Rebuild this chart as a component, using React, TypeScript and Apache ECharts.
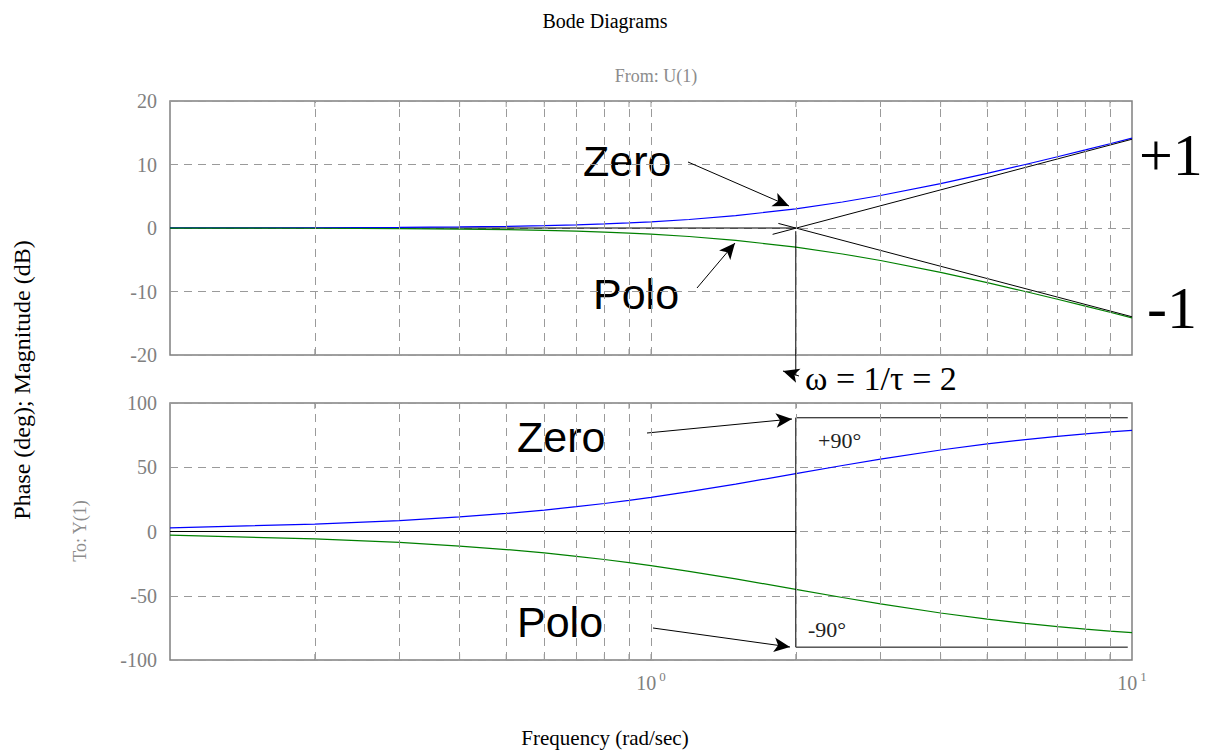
import React, { useEffect, useRef } from "react";
import * as echarts from "echarts";

// Frequency samples (rad/sec) shared by every response curve
const FREQ = [0.1, 0.2, 0.3, 0.4, 0.5, 0.6, 0.7, 0.8, 0.9, 1, 1.2, 1.5, 2, 2.5, 3, 4, 5, 6, 7, 8, 9, 10];

// Magnitude (dB)
const ZERO_MAG = [0.01, 0.04, 0.1, 0.17, 0.26, 0.37, 0.5, 0.65, 0.8, 0.97, 1.34, 1.94, 3.01, 4.09, 5.12, 6.99, 8.6, 10.0, 11.22, 12.3, 13.27, 14.15];
const POLE_MAG = [-0.01, -0.04, -0.1, -0.17, -0.26, -0.37, -0.5, -0.65, -0.8, -0.97, -1.34, -1.94, -3.01, -4.09, -5.12, -6.99, -8.6, -10.0, -11.22, -12.3, -13.27, -14.15];

// Phase (deg)
const ZERO_PHASE = [2.86, 5.71, 8.53, 11.31, 14.04, 16.7, 19.29, 21.8, 24.23, 26.57, 30.96, 36.87, 45, 51.34, 56.31, 63.43, 68.2, 71.57, 74.05, 75.96, 77.47, 78.69];
const POLE_PHASE = [-2.86, -5.71, -8.53, -11.31, -14.04, -16.7, -19.29, -21.8, -24.23, -26.57, -30.96, -36.87, -45, -51.34, -56.31, -63.43, -68.2, -71.57, -74.05, -75.96, -77.47, -78.69];

// Straight-line asymptotes of the magnitude plot
const MAG_FLAT = [[0.1, 0], [2, 0]];
const MAG_RISE = [[1.79, -1.0], [10, 13.98]];
const MAG_FALL = [[1.84, 0.72], [10, -13.98]];
const MAG_CORNER = [[2, -0.5], [2, -23.2]];

// Asymptotes of the phase plot
const PH_FLAT = [[0.1, 0], [2, 0]];
const PH_CORNER = [[2, 88.5], [2, -90]];
const PH_UP = [[2, 88.5], [9.8, 88.5]];
const PH_DOWN = [[2, -90], [9.8, -90]];

// Log grid positions inside each decade
const GRID_FREQ = [0.2, 0.3, 0.4, 0.5, 0.6, 0.7, 0.8, 0.9, 1, 2, 3, 4, 5, 6, 7, 8, 9];

const MAG_RANGE = [-20, 20];
const PH_RANGE = [-100, 100];

const SERIF = "'Liberation Serif', 'Times New Roman', serif";
const SANS = "'Liberation Sans', Arial, sans-serif";
const GRID_GREY = "#9a9a9a";
const FRAME_GREY = "#808080";

const zip = (xs: number[], ys: number[]) => xs.map((x, i) => [x, ys[i]]);

export default function App() {
  const ref = useRef<HTMLDivElement>(null);

  useEffect(() => {
    if (!ref.current) return;
    const chart = echarts.init(ref.current, null, { renderer: "svg" });

    const gridLines = {
      silent: true,
      symbol: "none",
      label: { show: false },
      lineStyle: { type: [8, 6], color: GRID_GREY, width: 1 },
      data: GRID_FREQ.map((v) => ({ xAxis: v })),
    };

    const ticks = (xi: number, range: number[]) => [
      {
        type: "scatter",
        xAxisIndex: xi,
        yAxisIndex: xi,
        silent: true,
        symbol: "rect",
        symbolSize: [1, 6],
        symbolOffset: [0, -3],
        itemStyle: { color: FRAME_GREY },
        data: GRID_FREQ.map((v) => [v, range[0]]),
        z: 1,
      },
      {
        type: "scatter",
        xAxisIndex: xi,
        yAxisIndex: xi,
        silent: true,
        symbol: "rect",
        symbolSize: [1, 6],
        symbolOffset: [0, 3],
        itemStyle: { color: FRAME_GREY },
        data: GRID_FREQ.map((v) => [v, range[1]]),
        z: 1,
      },
    ];

    const curve = (xi: number, data: number[][], color: string) => ({
      type: "line",
      xAxisIndex: xi,
      yAxisIndex: xi,
      data,
      showSymbol: false,
      silent: true,
      lineStyle: { color, width: 1.2 },
      z: 3,
    });

    const asym = (xi: number, data: number[][], extra: any = {}) => ({
      type: "line",
      xAxisIndex: xi,
      yAxisIndex: xi,
      data,
      showSymbol: false,
      silent: true,
      lineStyle: { color: "#000", width: 1 },
      z: 4,
      ...extra,
    });

    const arrow = (x1: number, y1: number, x2: number, y2: number) => [
      { x: x1, y: y1 },
      { x: x2, y: y2 },
    ];

    const axisLabelRich = {
      b: { fontFamily: SERIF, fontSize: 20, color: FRAME_GREY, lineHeight: 26 },
      s: { fontFamily: SERIF, fontSize: 13, color: FRAME_GREY, lineHeight: 26, verticalAlign: "top", padding: [0, 0, 0, 3] },
    };

    const yAxisBase = (gi: number, range: number[], interval: number) => ({
      type: "value",
      gridIndex: gi,
      min: range[0],
      max: range[1],
      interval,
      axisLine: { show: false },
      axisTick: { show: false },
      axisLabel: { color: FRAME_GREY, fontFamily: SERIF, fontSize: 20, margin: 13 },
      splitLine: { show: true, lineStyle: { type: [8, 6], color: GRID_GREY, width: 1 } },
    });

    const option: any = {
      animation: false,
      backgroundColor: "#fff",
      grid: [
        { left: 170, right: 78, top: 101, height: 254, show: true, borderColor: FRAME_GREY, borderWidth: 1.5 },
        { left: 170, right: 78, top: 403, height: 257, show: true, borderColor: FRAME_GREY, borderWidth: 1.5 },
      ],
      xAxis: [
        {
          type: "log", logBase: 10, gridIndex: 0, min: 0.1, max: 10,
          axisLine: { show: false }, axisTick: { show: false }, axisLabel: { show: false }, splitLine: { show: false },
        },
        {
          type: "log", logBase: 10, gridIndex: 1, min: 0.1, max: 10,
          axisLine: { show: false }, axisTick: { show: false }, splitLine: { show: false },
          axisLabel: {
            margin: 10,
            formatter: (v: number) => {
              if (Math.abs(v - 1) < 1e-9) return "{b|10}{s|0}";
              if (Math.abs(v - 10) < 1e-9) return "{b|10}{s|1}";
              return "";
            },
            rich: axisLabelRich,
          },
        },
      ],
      yAxis: [yAxisBase(0, MAG_RANGE, 10), yAxisBase(1, PH_RANGE, 50)],
      series: [
        // Magnitude panel
        asym(0, MAG_FLAT, {
          markLine: gridLines,
          z: 2,
        }),
        ...ticks(0, MAG_RANGE),
        curve(0, zip(FREQ, ZERO_MAG), "#0000ff"),
        curve(0, zip(FREQ, POLE_MAG), "#008000"),
        asym(0, MAG_RISE),
        asym(0, MAG_FALL),
        asym(0, MAG_CORNER, {
          clip: false,
          markLine: {
            silent: true,
            symbol: ["none", "arrow"],
            symbolSize: [11, 16],
            label: { show: false },
            lineStyle: { color: "#000", width: 1, type: "solid" },
            data: [
              arrow(688, 162, 789, 206),
              arrow(697, 288, 735, 243),
              arrow(799, 376, 783, 371),
              arrow(647, 433, 792, 419),
              arrow(653, 628, 790, 647),
            ],
          },
        }),
        // Phase panel
        asym(1, PH_FLAT, { markLine: gridLines, z: 2 }),
        ...ticks(1, PH_RANGE),
        curve(1, zip(FREQ, ZERO_PHASE), "#0000ff"),
        curve(1, zip(FREQ, POLE_PHASE), "#008000"),
        asym(1, PH_CORNER),
        asym(1, PH_UP),
        asym(1, PH_DOWN),
      ],
      graphic: [
        { type: "text", x: 605, y: 21, style: { text: "Bode Diagrams", font: `20px ${SERIF}`, fill: "#000", align: "center", verticalAlign: "middle" } },
        { type: "text", x: 656, y: 76, style: { text: "From: U(1)", font: `18px ${SERIF}`, fill: "#8c8c8c", align: "center", verticalAlign: "middle" } },
        { type: "text", x: 22, y: 380, rotation: Math.PI / 2, style: { text: "Phase (deg); Magnitude (dB)", font: `24px ${SERIF}`, fill: "#000", align: "center", verticalAlign: "middle" } },
        { type: "text", x: 80, y: 531, rotation: Math.PI / 2, style: { text: "To: Y(1)", font: `18px ${SERIF}`, fill: "#8c8c8c", align: "center", verticalAlign: "middle" } },
        { type: "text", x: 605, y: 738, style: { text: "Frequency (rad/sec)", font: `21px ${SERIF}`, fill: "#000", align: "center", verticalAlign: "middle" } },
        { type: "text", x: 583, y: 161, style: { text: "Zero", font: `43px ${SANS}`, fill: "#000", align: "left", verticalAlign: "middle" } },
        { type: "text", x: 593, y: 294, style: { text: "Polo", font: `43px ${SANS}`, fill: "#000", align: "left", verticalAlign: "middle" } },
        { type: "text", x: 517, y: 437, style: { text: "Zero", font: `43px ${SANS}`, fill: "#000", align: "left", verticalAlign: "middle" } },
        { type: "text", x: 517, y: 622, style: { text: "Polo", font: `43px ${SANS}`, fill: "#000", align: "left", verticalAlign: "middle" } },
        { type: "text", x: 1139, y: 155, style: { text: "+1", font: `60px ${SERIF}`, fill: "#000", align: "left", verticalAlign: "middle" } },
        { type: "text", x: 1147, y: 308, style: { text: "-1", font: `60px ${SERIF}`, fill: "#000", align: "left", verticalAlign: "middle" } },
        { type: "text", x: 805, y: 378, style: { text: "ω = 1/τ = 2", font: `34px ${SERIF}`, fill: "#000", align: "left", verticalAlign: "middle" } },
        { type: "text", x: 818, y: 440, style: { text: "+90°", font: `22px ${SERIF}`, fill: "#222", align: "left", verticalAlign: "middle" } },
        { type: "text", x: 808, y: 629, style: { text: "-90°", font: `22px ${SERIF}`, fill: "#222", align: "left", verticalAlign: "middle" } },
      ],
    };

    chart.setOption(option);
    return () => chart.dispose();
  }, []);

  return (
    <div
      ref={ref}
      style={{ position: "fixed", left: 0, top: 0, width: 1210, height: 750, background: "#fff" }}
    />
  );
}
